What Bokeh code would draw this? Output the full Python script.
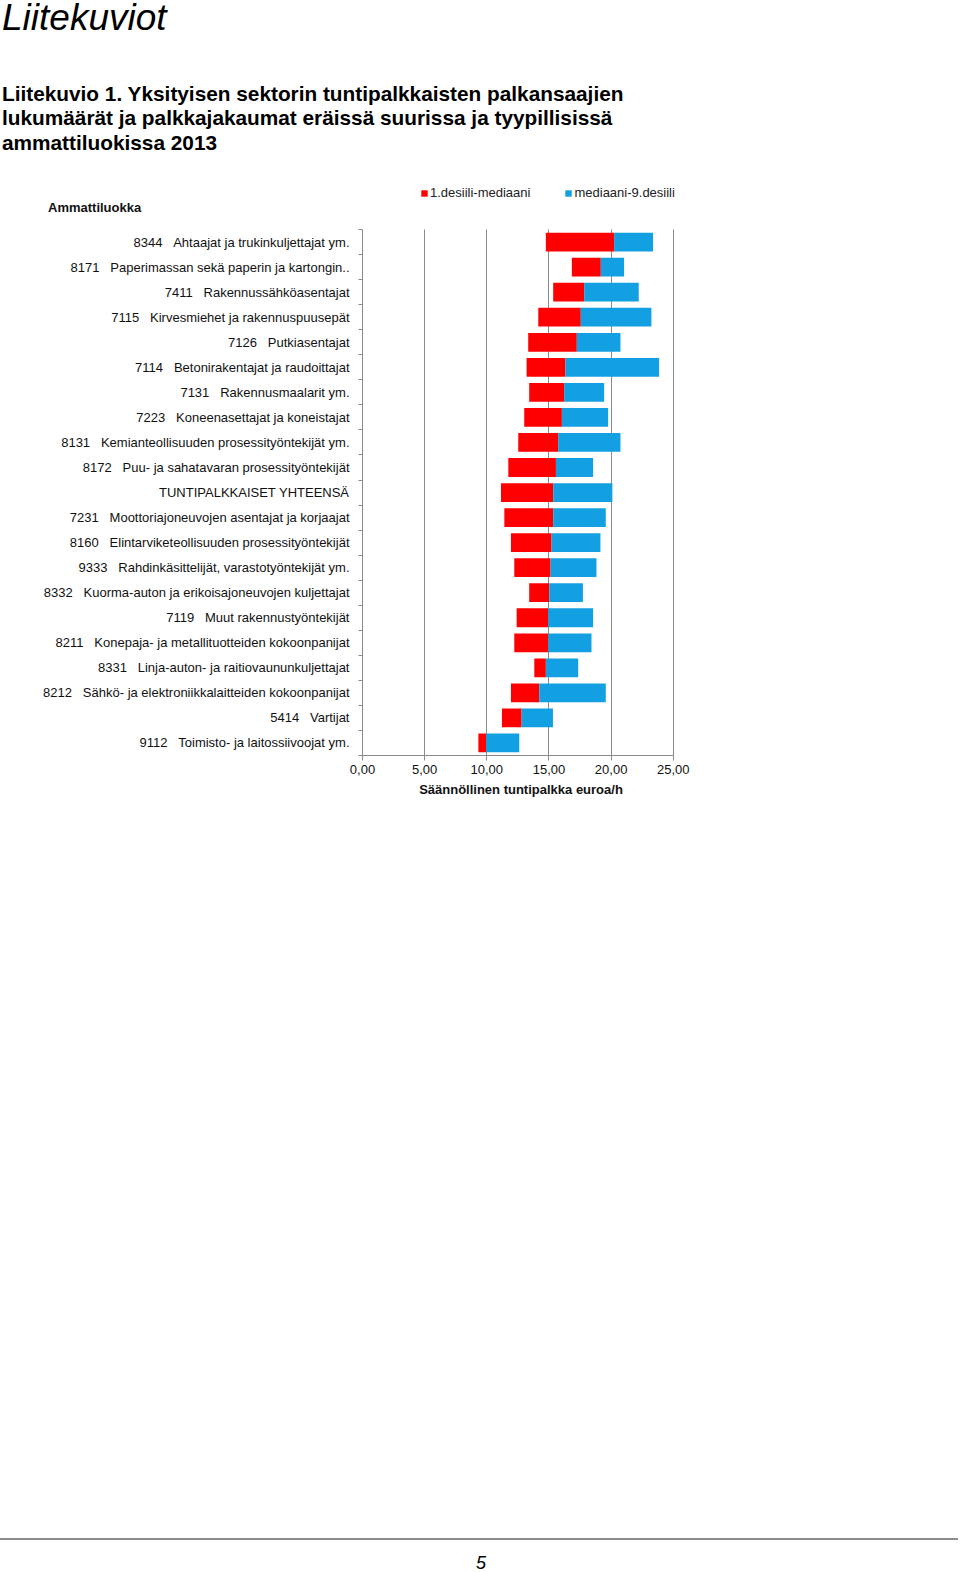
from bokeh.plotting import figure
from bokeh.models import (Range1d, FixedTicker, Legend, LegendItem,
                          ColumnDataSource, Div)
from bokeh.layouts import column
from bokeh.embed import file_html
from bokeh.resources import INLINE

# ---------------- data ----------------
codes = ["8344", "8171", "7411", "7115", "7126", "7114", "7131", "7223", "8131",
         "8172", "", "7231", "8160", "9333", "8332", "7119", "8211", "8331",
         "8212", "5414", "9112"]
names = ["Ahtaajat ja trukinkuljettajat ym.",
         "Paperimassan sekä paperin ja kartongin..",
         "Rakennussähköasentajat",
         "Kirvesmiehet ja rakennuspuusepät",
         "Putkiasentajat",
         "Betonirakentajat ja raudoittajat",
         "Rakennusmaalarit ym.",
         "Koneenasettajat ja koneistajat",
         "Kemianteollisuuden prosessityöntekijät ym.",
         "Puu- ja sahatavaran prosessityöntekijät",
         "TUNTIPALKKAISET YHTEENSÄ",
         "Moottoriajoneuvojen asentajat ja korjaajat",
         "Elintarviketeollisuuden prosessityöntekijät",
         "Rahdinkäsittelijät, varastotyöntekijät ym.",
         "Kuorma-auton ja erikoisajoneuvojen kuljettajat",
         "Muut rakennustyöntekijät",
         "Konepaja- ja metallituotteiden kokoonpanijat",
         "Linja-auton- ja raitiovaununkuljettajat",
         "Sähkö- ja elektroniikkalaitteiden kokoonpanijat",
         "Vartijat",
         "Toimisto- ja laitossiivoojat ym."]
decile1 = [14.75, 16.84, 15.34, 14.14, 13.33, 13.20, 13.41, 13.01, 12.53, 11.73,
           11.14, 11.41, 11.94, 12.21, 13.41, 12.40, 12.21, 13.82, 11.94, 11.22, 9.32]
median = [20.24, 19.17, 17.83, 17.56, 17.24, 16.33, 16.22, 16.04, 15.74, 15.56,
          15.34, 15.34, 15.21, 15.13, 15.02, 14.94, 14.94, 14.75, 14.22, 12.80, 9.94]
decile9 = [23.37, 21.04, 22.22, 23.24, 20.75, 23.86, 19.44, 19.76, 20.75, 18.55,
           20.10, 19.57, 19.14, 18.82, 17.73, 18.55, 18.42, 17.35, 19.57, 15.32, 12.61]
x_ticks = [0, 5, 10, 15, 20, 25]
x_tick_labels = ["0,00", "5,00", "10,00", "15,00", "20,00", "25,00"]
series_names = ["1.desiili-mediaani", "mediaani-9.desiili"]
colors = ["#FF0000", "#12A0E2"]
y_title = "Ammattiluokka"
x_title = "Säännöllinen tuntipalkka euroa/h"
page_heading = "Liitekuviot"
chart_title = ["Liitekuvio 1. Yksityisen sektorin tuntipalkkaisten palkansaajien",
               "lukumäärät ja palkkajakaumat eräissä suurissa ja tyypillisissä",
               "ammattiluokissa 2013"]
page_number = "5"

labels = [(c + "\u00a0\u00a0\u00a0" + n) if c else n for c, n in zip(codes, names)]
n = len(labels)
ypos = [n - i - 0.5 for i in range(n)]
src = ColumnDataSource(dict(y=ypos, d1=decile1, med=median, d9=decile9))

FONT = "Liberation Sans"
GRAY = "#8a8a8a"
W = 960

# ---------------- heading block (page y 0..216) ----------------
TOP_H = 216
head_html = (
    f'<div style="position:relative;width:{W}px;height:{TOP_H}px;'
    f'font-family:\'{FONT}\',Arial,sans-serif;color:#000;">'
    f'<div style="position:absolute;left:2px;top:-1px;font-size:37px;'
    f'font-style:italic;line-height:37px;white-space:nowrap;">{page_heading}</div>'
)
for i, t in enumerate(chart_title):
    top = 83.5 + 24.5 * i
    head_html += (f'<div style="position:absolute;left:2px;top:{top}px;font-size:20.8px;'
                  f'font-weight:bold;line-height:20.8px;white-space:nowrap;">{t}</div>')
head_html += (f'<div style="position:absolute;left:48px;top:201px;font-size:13px;'
              f'font-weight:bold;line-height:13px;color:#111;white-space:nowrap;">'
              f'{y_title}</div>')
head_html += '</div>'
head = Div(text=head_html, width=W, height=TOP_H, margin=0)

# ---------------- chart (page y 180..1525, overlapping the heading block) ----------------
FIG_TOP = 180
FIG_H = 1345
PX_PER_X = 311 / 25          # 0..25 spans page x 362..673
PX_PER_ROW = 526 / n         # rows span page y 229..755
FL, FB = 362, 755
X_END = 25.5                 # a little room right of 25 for the legend text
Y_END = n + 1.8              # room above the rows for the legend
FR = FL + round(X_END * PX_PER_X)
FT = FB - round(Y_END * PX_PER_ROW)

p = figure(width=W, height=FIG_H, output_backend="svg", toolbar_location=None,
           title=None, x_range=Range1d(0, X_END), y_range=Range1d(0, Y_END),
           min_border_left=FL, min_border_right=W - FR,
           min_border_top=FT - FIG_TOP, min_border_bottom=FIG_TOP + FIG_H - FB,
           margin=(FIG_TOP - TOP_H, 0, 0, 0))
p.outline_line_color = None
p.background_fill_color = "white"
p.border_fill_alpha = 0

r1 = p.hbar(y="y", left="d1", right="med", height=0.75, source=src,
            fill_color=colors[0], line_color=None)
r2 = p.hbar(y="y", left="med", right="d9", height=0.75, source=src,
            fill_color=colors[1], line_color=None)

xa = p.xaxis[0]
xa.ticker = FixedTicker(ticks=x_ticks)
xa.bounds = (0, 25)
xa.major_label_overrides = {t: l for t, l in zip(x_ticks, x_tick_labels)}
xa.axis_line_color = GRAY
xa.major_tick_line_color = GRAY
xa.major_tick_in = 0
xa.major_tick_out = 5
xa.minor_tick_line_color = None
xa.major_label_text_font = FONT
xa.major_label_text_font_size = "13px"
xa.major_label_text_color = "#111111"
xa.major_label_standoff = 4
xa.axis_label = x_title
xa.axis_label_text_font = FONT
xa.axis_label_text_font_size = "13px"
xa.axis_label_text_font_style = "bold"
xa.axis_label_text_color = "#111111"
xa.axis_label_standoff = 5

ya = p.yaxis[0]
ya.ticker = FixedTicker(ticks=ypos, minor_ticks=list(range(n + 1)))
ya.bounds = (0, n)
ya.major_label_overrides = {y: l for y, l in zip(ypos, labels)}
ya.axis_line_color = GRAY
ya.major_tick_line_color = None
ya.major_tick_in = 0
ya.major_tick_out = 0
ya.minor_tick_line_color = GRAY
ya.minor_tick_in = 0
ya.minor_tick_out = 4
ya.major_label_text_font = FONT
ya.major_label_text_font_size = "13px"
ya.major_label_text_color = "#111111"
ya.major_label_standoff = 9

xg = p.xgrid[0]
xg.ticker = FixedTicker(ticks=x_ticks[1:])
xg.grid_line_color = GRAY
if "cross_bounds" in xg.properties():
    xg.cross_bounds = (0, n)
p.ygrid.grid_line_color = None

legend = Legend(items=[LegendItem(label=series_names[0], renderers=[r1]),
                       LegendItem(label=series_names[1], renderers=[r2])],
                orientation="horizontal", location=(420 - FL, FB - 200),
                padding=0, margin=0, spacing=34, glyph_width=8, glyph_height=8,
                label_standoff=2, label_height=14,
                label_text_font=FONT, label_text_font_size="13px",
                label_text_color="#222222", border_line_color=None,
                background_fill_alpha=0)
p.add_layout(legend, "center")

# ---------------- footer (page y 1525..1571) ----------------
FOOT_H = 46
foot_html = (
    f'<div style="position:relative;width:{W}px;height:{FOOT_H}px;'
    f'font-family:\'{FONT}\',Arial,sans-serif;color:#000;">'
    f'<div style="position:absolute;left:0px;top:13px;width:958px;height:2px;'
    f'background:#8c8c8c;"></div>'
    f'<div style="position:absolute;left:471px;width:20px;text-align:center;top:29px;'
    f'font-size:18px;font-style:italic;line-height:18px;">{page_number}</div>'
    '</div>'
)
foot = Div(text=foot_html, width=W, height=FOOT_H, margin=0)

layout = column(head, p, foot, spacing=0, margin=0)
open("out.html", "w").write(file_html(layout, INLINE))
